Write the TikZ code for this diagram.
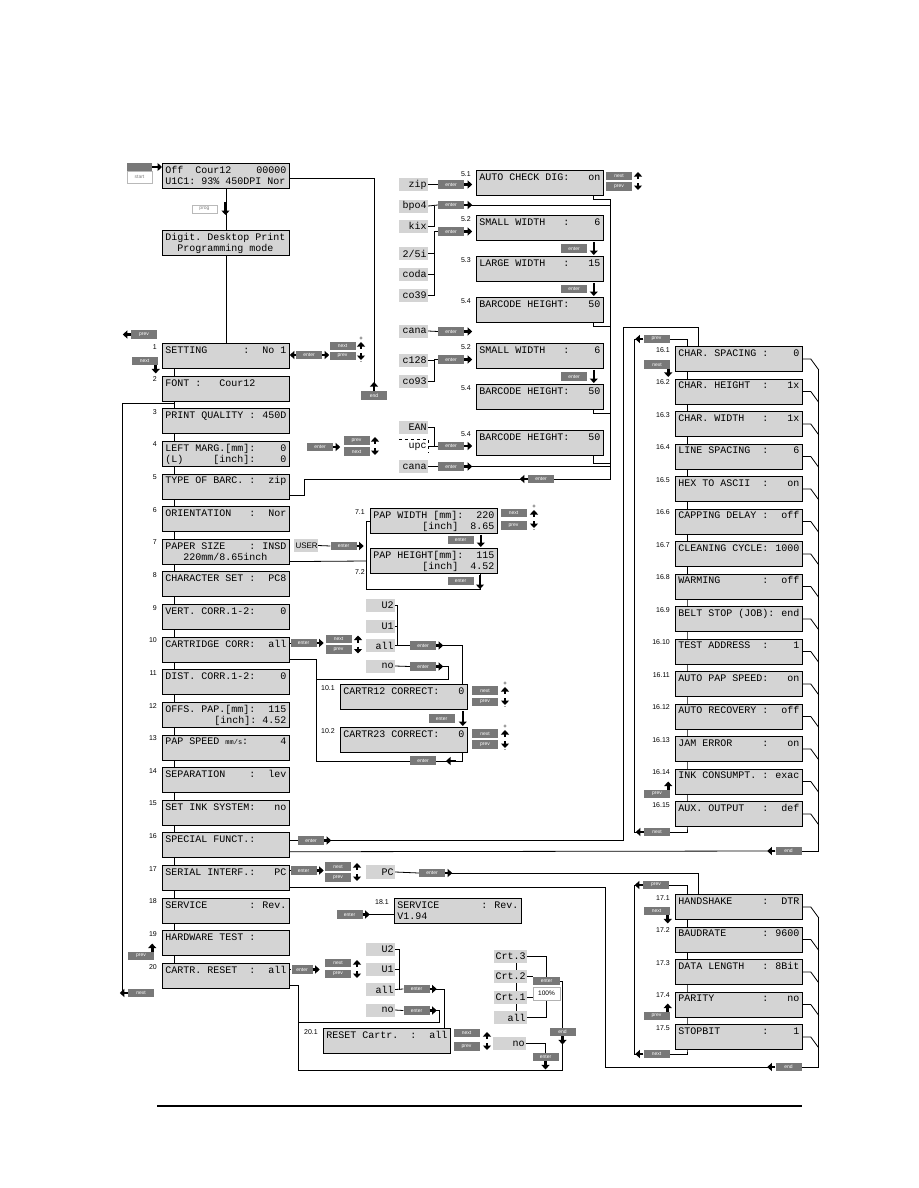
\documentclass[tikz,border=0pt]{standalone}
\usepackage{fontspec}
\setmainfont{Liberation Sans}
\newfontfamily\lcdfont{Liberation Mono}
\usetikzlibrary{arrows.meta,positioning,calc,backgrounds}
\definecolor{lcdgray}{gray}{0.83}
\definecolor{keygray}{gray}{0.47}
\newcommand{\lcdtxt}[2]{\parbox[c][24pt][t]{121pt}{\lcdfont\fontsize{10}{11}\selectfont\frenchspacing\rule{0pt}{9.5pt}#1\\\mbox{}#2}}
\tikzset{
  lcd/.style={draw,fill=lcdgray,line width=0.8pt,anchor=north west,minimum width=127pt,minimum height=25pt,inner sep=0pt},
  opt/.style={fill=lcdgray,text width=26pt,align=right,minimum height=13pt,inner sep=1.5pt,font=\lcdfont\fontsize{10}{10}\selectfont},
  key/.style={fill=keygray,text=white,minimum width=26pt,minimum height=8.5pt,inner sep=0pt,font=\fontsize{5}{5}\selectfont},
  wkey/.style={draw=gray!55,line width=0.8pt,fill=white,text=gray,minimum width=25pt,minimum height=9pt,inner sep=0pt,font=\fontsize{5}{5}\selectfont},
  nr/.style={anchor=north east,inner sep=0pt,xshift=-5pt,yshift=-1pt,font=\fontsize{7}{7}\selectfont},
  blk/.style={line width=2.6pt,-{Triangle[length=4.5pt,width=8pt]}},
  ln/.style={line width=0.8pt},
  updn/.pic={
    \draw[blk] (0,-2) -- (0,-9);
    \draw[blk] (0,2) -- (0,9);
  },
  updnpm/.pic={
    \draw[blk] (0,-2) -- (0,-9);
    \draw[blk] (0,2) -- (0,9);
    \node[font=\fontsize{6}{6}\selectfont,inner sep=0pt] at (0,-12) {+};
    \node[font=\fontsize{6}{6}\selectfont,inner sep=0pt] at (0,12) {-};
  }
}

\begin{document}
\begin{tikzpicture}[x=1pt,y=-1pt]
\useasboundingbox (0,0) rectangle (918,1188);

% start, programming mode
\node[key,minimum width=25pt,minimum height=8pt] (startbar) at (139.5,167) {};
\node[wkey,minimum height=12pt] (start) at (139.5,177) {start};
\node[lcd] (idle) at (162,163) {\lcdtxt{Off~~Cour12\hfill 00000}{U1C1:~93\%~450DPI~Nor}};
\node[wkey,minimum height=8pt] (progkey) at (204.5,209) {prog};
\node[lcd] (prog) at (162,230) {\lcdtxt{Digit.~Desktop~Print}{~~Programming~mode}};
\node[key] (endA) at (374,395.5) {end};

% main menu
\node[lcd] (m1) at (162,343) {\lcdtxt{SETTING~~~~~~:\hfill No~1}{}};
\node[lcd,below=6.83pt of m1] (m2) {\lcdtxt{FONT~:~~~Cour12}{}};
\node[lcd,below=6.83pt of m2] (m3) {\lcdtxt{PRINT~QUALITY~:\hfill 450D}{}};
\node[lcd,below=6.83pt of m3] (m4) {\lcdtxt{LEFT~MARG.[mm]:\hfill 0}{(L)~~~~~[inch]:\hfill 0}};
\node[lcd,below=6.83pt of m4] (m5) {\lcdtxt{TYPE~OF~BARC.~:\hfill zip}{}};
\node[lcd,below=6.83pt of m5] (m6) {\lcdtxt{ORIENTATION~~~:\hfill Nor}{}};
\node[lcd,below=6.83pt of m6] (m7) {\lcdtxt{PAPER~SIZE~~~~:\hfill INSD}{~~~220mm/8.65inch}};
\node[lcd,below=6.83pt of m7] (m8) {\lcdtxt{CHARACTER~SET~:\hfill PC8}{}};
\node[lcd,below=6.83pt of m8] (m9) {\lcdtxt{VERT.~CORR.1-2:\hfill 0}{}};
\node[lcd,below=6.83pt of m9] (m10) {\lcdtxt{CARTRIDGE~CORR:\hfill all}{}};
\node[lcd,below=6.83pt of m10] (m11) {\lcdtxt{DIST.~CORR.1-2:\hfill 0}{}};
\node[lcd,below=6.83pt of m11] (m12) {\lcdtxt{OFFS.~PAP.[mm]:\hfill 115}{\hfill[inch]:~4.52}};
\node[lcd,below=6.83pt of m12] (m13) {\lcdtxt{PAP~SPEED~{\fontsize{7}{7}\selectfont mm/s}:\hfill 4}{}};
\node[lcd,below=6.83pt of m13] (m14) {\lcdtxt{SEPARATION~~~~:\hfill lev}{}};
\node[lcd,below=6.83pt of m14] (m15) {\lcdtxt{SET~INK~SYSTEM:\hfill no}{}};
\node[lcd,below=6.83pt of m15] (m16) {\lcdtxt{SPECIAL~FUNCT.:}{}};
\node[lcd,below=6.83pt of m16] (m17) {\lcdtxt{SERIAL~INTERF.:\hfill PC}{}};
\node[lcd,below=6.83pt of m17] (m18) {\lcdtxt{SERVICE~~~~~~~:\hfill Rev.}{}};
\node[lcd,below=6.83pt of m18] (m19) {\lcdtxt{HARDWARE~TEST~:}{}};
\node[lcd,below=6.83pt of m19] (m20) {\lcdtxt{CARTR.~RESET~~:\hfill all}{}};
\node[nr] (n1) at (m1.north west) {1};
\node[nr] (n2) at (m2.north west) {2};
\node[nr] (n3) at (m3.north west) {3};
\node[nr] (n4) at (m4.north west) {4};
\node[nr] (n5) at (m5.north west) {5};
\node[nr] (n6) at (m6.north west) {6};
\node[nr] (n7) at (m7.north west) {7};
\node[nr] (n8) at (m8.north west) {8};
\node[nr] (n9) at (m9.north west) {9};
\node[nr] (n10) at (m10.north west) {10};
\node[nr] (n11) at (m11.north west) {11};
\node[nr] (n12) at (m12.north west) {12};
\node[nr] (n13) at (m13.north west) {13};
\node[nr] (n14) at (m14.north west) {14};
\node[nr] (n15) at (m15.north west) {15};
\node[nr] (n16) at (m16.north west) {16};
\node[nr] (n17) at (m17.north west) {17};
\node[nr] (n18) at (m18.north west) {18};
\node[nr] (n19) at (m19.north west) {19};
\node[nr] (n20) at (m20.north west) {20};

% keys along the main menu
\node[key] (prev1) at (144,334.5) {prev};
\node[key] (next1) at (144.5,361) {next};
\node[key] (prev19) at (141,956) {prev};
\node[key] (next20) at (141,993) {next};
\node[key] (ent1) at (309,355) {enter};
\node[key] (nx1) at (342.5,346) {next};
\node[key] (pv1) at (342.5,356) {prev};
\node[key] (ent4) at (320,447) {enter};
\node[key] (pv4) at (356.5,440.5) {prev};
\node[key] (nx4) at (356.5,451.5) {next};

% barcodes
\node[opt] (zip) at (413.5,184.5) {zip};
\node[opt] (bpo4) at (413.5,206) {bpo4};
\node[opt] (kix) at (413.5,226) {kix};
\node[opt] (i25) at (413.5,253.5) {2/5i};
\node[opt] (coda) at (413.5,274) {coda};
\node[opt] (co39) at (413.5,295.5) {co39};
\node[opt] (cana) at (413.5,331) {cana};
\node[opt] (c128) at (413.5,360) {c128};
\node[opt] (co93) at (413.5,381) {co93};
\node[opt] (ean) at (413.5,427.5) {EAN};
\node[opt,fill=none] (upc) at (413.5,446.5) {upc};
\node[opt] (canb) at (413.5,466.5) {cana};
\node[key] (ezip) at (451,184.5) {enter};
\node[key] (ebpo) at (451,205) {enter};
\node[key] (e25) at (451,231.5) {enter};
\node[key] (ecana) at (451,331.5) {enter};
\node[key] (e128) at (451,359.5) {enter};
\node[key] (eean) at (451,446) {enter};
\node[key] (ecanb) at (451,466.5) {enter};
\node[lcd] (b51) at (476,170) {\lcdtxt{AUTO~CHECK~DIG:\hfill on}{}};
\node[lcd] (b52) at (476,215) {\lcdtxt{SMALL~WIDTH~~~:\hfill 6}{}};
\node[lcd,below=15.2pt of b52] (b53) {\lcdtxt{LARGE~WIDTH~~~:\hfill 15}{}};
\node[lcd,below=15.2pt of b53] (b54) {\lcdtxt{BARCODE~HEIGHT:\hfill 50}{}};
\node[lcd] (b52b) at (476,343) {\lcdtxt{SMALL~WIDTH~~~:\hfill 6}{}};
\node[lcd,below=15.2pt of b52b] (b54b) {\lcdtxt{BARCODE~HEIGHT:\hfill 50}{}};
\node[lcd] (b54c) at (476,430) {\lcdtxt{BARCODE~HEIGHT:\hfill 50}{}};
\node[nr] (n51) at (b51.north west) {5.1};
\node[nr] (n52) at (b52.north west) {5.2};
\node[nr] (n53) at (b53.north west) {5.3};
\node[nr] (n54) at (b54.north west) {5.4};
\node[nr] (n52b) at (b52b.north west) {5.2};
\node[nr] (n54b) at (b54b.north west) {5.4};
\node[nr] (n54c) at (b54c.north west) {5.4};
\node[key] (e53) at (574,248.5) {enter};
\node[key] (e54) at (574,289) {enter};
\node[key] (e54b) at (574,376.5) {enter};
\node[key] (nx51) at (619,176) {next};
\node[key] (pv51) at (619,186.5) {prev};
\node[key] (eback5) at (541,479) {enter};

% paper size
\node[opt,text width=21pt,align=center,font=\fontsize{8}{8}\selectfont] (user) at (306,545.5) {USER};
\node[key] (euser) at (343.5,546) {enter};
\node[lcd] (b71) at (370,508) {\lcdtxt{PAP~WIDTH~[mm]:\hfill 220}{\hfill[inch]~~8.65}};
\node[lcd] (b72) at (370,548) {\lcdtxt{PAP~HEIGHT[mm]:\hfill 115}{\hfill[inch]~~4.52}};
\node[nr] (n71) at (b71.north west) {7.1};
\node[nr,anchor=south east] (n72) at (b72.south west) {7.2};
\node[key] (e71) at (460.5,540) {enter};
\node[key] (e72) at (460.5,581) {enter};
\node[key] (nx71) at (513.5,513) {next};
\node[key] (pv71) at (513.5,525.5) {prev};

% cartridge correction
\node[key] (e10) at (303.5,643) {enter};
\node[key] (nx10) at (338.5,639) {next};
\node[key] (pv10) at (338.5,649.5) {prev};
\node[opt] (cu2) at (380.5,605.5) {U2};
\node[opt] (cu1) at (380.5,626) {U1};
\node[opt] (call) at (380.5,645.5) {all};
\node[opt] (cno) at (380.5,666) {no};
\node[key] (ecall) at (423,645.5) {enter};
\node[key] (ecno) at (423,666.5) {enter};
\node[lcd] (b101) at (340,684) {\lcdtxt{CARTR12~CORRECT:\hfill 0}{}};
\node[lcd] (b102) at (340,727) {\lcdtxt{CARTR23~CORRECT:\hfill 0}{}};
\node[nr] (n101) at (b101.north west) {10.1};
\node[nr] (n102) at (b102.north west) {10.2};
\node[key] (e101) at (441.5,718.5) {enter};
\node[key] (e102) at (423,760.5) {enter};
\node[key] (nx101) at (485,690.5) {next};
\node[key] (pv101) at (485,702) {prev};
\node[key] (nx102) at (485,733.5) {next};
\node[key] (pv102) at (485,744.5) {prev};

% special functions
\node[key] (e16) at (311,840.5) {enter};
\node[lcd] (s1) at (675,346) {\lcdtxt{CHAR.~SPACING~:\hfill 0}{}};
\node[lcd,below=6.7pt of s1] (s2) {\lcdtxt{CHAR.~HEIGHT~~:\hfill 1x}{}};
\node[lcd,below=6.7pt of s2] (s3) {\lcdtxt{CHAR.~WIDTH~~~:\hfill 1x}{}};
\node[lcd,below=6.7pt of s3] (s4) {\lcdtxt{LINE~SPACING~~:\hfill 6}{}};
\node[lcd,below=6.7pt of s4] (s5) {\lcdtxt{HEX~TO~ASCII~~:\hfill on}{}};
\node[lcd,below=6.7pt of s5] (s6) {\lcdtxt{CAPPING~DELAY~:\hfill off}{}};
\node[lcd,below=6.7pt of s6] (s7) {\lcdtxt{CLEANING~CYCLE:\hfill 1000}{}};
\node[lcd,below=6.7pt of s7] (s8) {\lcdtxt{WARMING~~~~~~~:\hfill off}{}};
\node[lcd,below=6.7pt of s8] (s9) {\lcdtxt{BELT~STOP~(JOB):\hfill end}{}};
\node[lcd,below=6.7pt of s9] (s10) {\lcdtxt{TEST~ADDRESS~~:\hfill 1}{}};
\node[lcd,below=6.7pt of s10] (s11) {\lcdtxt{AUTO~PAP~SPEED:\hfill on}{}};
\node[lcd,below=6.7pt of s11] (s12) {\lcdtxt{AUTO~RECOVERY~:\hfill off}{}};
\node[lcd,below=6.7pt of s12] (s13) {\lcdtxt{JAM~ERROR~~~~~:\hfill on}{}};
\node[lcd,below=6.7pt of s13] (s14) {\lcdtxt{INK~CONSUMPT.~:\hfill exac}{}};
\node[lcd,below=6.7pt of s14] (s15) {\lcdtxt{AUX.~OUTPUT~~~:\hfill def}{}};
\node[nr] (n161) at (s1.north west) {16.1};
\node[nr] (n162) at (s2.north west) {16.2};
\node[nr] (n163) at (s3.north west) {16.3};
\node[nr] (n164) at (s4.north west) {16.4};
\node[nr] (n165) at (s5.north west) {16.5};
\node[nr] (n166) at (s6.north west) {16.6};
\node[nr] (n167) at (s7.north west) {16.7};
\node[nr] (n168) at (s8.north west) {16.8};
\node[nr] (n169) at (s9.north west) {16.9};
\node[nr] (n1610) at (s10.north west) {16.10};
\node[nr] (n1611) at (s11.north west) {16.11};
\node[nr] (n1612) at (s12.north west) {16.12};
\node[nr] (n1613) at (s13.north west) {16.13};
\node[nr] (n1614) at (s14.north west) {16.14};
\node[nr] (n1615) at (s15.north west) {16.15};
\node[key] (pv16) at (656.5,339) {prev};
\node[key] (nx16) at (657,364.5) {next};
\node[key] (pv16b) at (657,794) {prev};
\node[key] (nx16b) at (657,832) {next};
\node[key] (end16) at (788.5,851) {end};

% serial interface
\node[key] (e17) at (303.5,870.5) {enter};
\node[key] (nx17) at (338,866.5) {next};
\node[key] (pv17) at (338,877.5) {prev};
\node[opt,minimum height=14pt] (pc) at (380.5,872) {PC};
\node[key] (epc) at (432,873) {enter};
\node[lcd] (r1) at (675,894) {\lcdtxt{HANDSHAKE~~~~~:\hfill DTR}{}};
\node[lcd,below=6.7pt of r1] (r2) {\lcdtxt{BAUDRATE~~~~~~:\hfill 9600}{}};
\node[lcd,below=6.7pt of r2] (r3) {\lcdtxt{DATA~LENGTH~~~:\hfill 8Bit}{}};
\node[lcd,below=6.7pt of r3] (r4) {\lcdtxt{PARITY~~~~~~~~:\hfill no}{}};
\node[lcd,below=6.7pt of r4] (r5) {\lcdtxt{STOPBIT~~~~~~~:\hfill 1}{}};
\node[nr] (n171) at (r1.north west) {17.1};
\node[nr] (n172) at (r2.north west) {17.2};
\node[nr] (n173) at (r3.north west) {17.3};
\node[nr] (n174) at (r4.north west) {17.4};
\node[nr] (n175) at (r5.north west) {17.5};
\node[key] (pv17t) at (656,885) {prev};
\node[key] (nx17t) at (656.5,911) {next};
\node[key] (pv17b) at (656.5,1016) {prev};
\node[key] (nx17b) at (656.5,1054) {next};
\node[key] (end17) at (788.5,1067) {end};

% service
\node[key] (e18) at (349.5,914.5) {enter};
\node[lcd] (v1) at (394,898) {\lcdtxt{SERVICE~~~~~~~:\hfill Rev.}{V1.94}};
\node[nr] (n181) at (v1.north west) {18.1};

% cartridge reset
\node[key,minimum width=21pt] (e20) at (302,969.5) {enter};
\node[key] (nx20) at (338,963) {next};
\node[key] (pv20) at (338,974) {prev};
\node[opt] (ru2) at (380.5,949.5) {U2};
\node[opt] (ru1) at (380.5,969.5) {U1};
\node[opt] (rall) at (380.5,989.5) {all};
\node[opt] (rno) at (380.5,1010) {no};
\node[key] (erall) at (416.5,989) {enter};
\node[key] (erno) at (416.5,1010.5) {enter};
\node[lcd] (t1) at (323,1028) {\lcdtxt{RESET~Cartr.~~:\hfill all}{}};
\node[nr] (n201) at (t1.north west) {20.1};
\node[key] (nx201) at (466.5,1033) {next};
\node[key] (pv201) at (466.5,1046.5) {prev};
\node[opt,text width=30pt] (no2) at (509.5,1043.5) {no};
\node[key] (eno2) at (545.5,1057) {enter};
\node[opt,text width=30pt] (c3) at (510.5,956.5) {Crt.3};
\node[opt,text width=30pt] (c2) at (510.5,976.5) {Crt.2};
\node[opt,text width=30pt] (c1) at (510.5,997) {Crt.1};
\node[opt,text width=30pt] (call2) at (510.5,1017.5) {all};
\node[key,minimum width=27pt] (ecrt) at (546.5,981) {enter};
\node[draw=gray!60,line width=0.7pt,fill=white,minimum width=27pt,minimum height=13pt,inner sep=0pt,font=\fontsize{6.5}{6.5}\selectfont] (pct) at (546.5,993.5) {100\%};
\node[key] (endr) at (562.5,1032) {end};

\begin{scope}[on background layer]
\draw[ln] (idle.south) -- (prog.north);
\draw[ln] (prog.south) -- (m1.north);
\draw[ln] ($(idle.north east)+(0,15)$) -| (endA.north);
\draw[ln] ($(m1.south west)+(12,0)$) -- ($(m20.north west)+(12,0)$);
\draw[ln] ($(m2.south west)+(12,1.5)$) -| (122,993);
% barcodes
\draw[ln] (zip.east) -- (ezip.west);
\draw[ln] (bpo4.east) -- (ebpo.west);
\draw[ln] (kix.east) -| (434,206);
\draw[ln] (ebpo.east) -- (610,205);
\draw[ln] (co39.east) -| (434,231.5) -- (e25.west);
\draw[ln] (i25.east) -- (434,253.5);
\draw[ln] (coda.east) -- (434,274);
\draw[ln] (cana.east) -- (ecana.west);
\draw[ln] (co93.east) -| (434,359.5) -- (e128.west);
\draw[ln] (c128.east) -- (434,360);
\draw[ln] (ean.east) -| (434,446) -- (eean.west);
\draw[ln] (upc.east) -- (434,446.5);
\draw[ln,dashed] (upc.north west) -- (upc.north east) -- (upc.south east);
\draw[ln] (canb.east) -- (ecanb.west);
\draw[ln] (ecanb.east) -- (610,466.5);
\draw[ln] ($(b51.south east)+(-10,0)$) |- (610,199);
\draw[ln] ($(b54.south east)+(-10,0)$) |- (610,326);
\draw[ln] ($(b54b.south east)+(-10,0)$) |- (610,413);
\draw[ln] ($(b54c.south east)+(-10,0)$) |- (610,463);
\draw[ln] (610,199) |- (304,479) |- ($(m5.south east)+(0,-3.5)$);
% paper size
\draw[ln] (user.east) -- (euser.west);
\draw[ln] (b71.west) -| (366,589) -| ($(b72.south east)+(-17,0)$);
\draw[ln] ($(m7.south east)+(0,-3)$) -- (366,561);
% cartridge correction
\draw[ln] (m10.east |- e10) -- (e10.west);
\draw[ln] (cu2.east) -| (397,645.5);
\draw[ln] (cu1.east) -- (397,626);
\draw[ln] (call.east) -- (ecall.west);
\draw[ln] (ecall.east) -| ($(b101.north east)+(-5,0)$);
\draw[ln] (cno.east) -- (ecno.west);
\draw[ln] (ecno.east) -| (448,679) -- (316,679);
\draw[ln] ($(m10.south east)+(0,-3)$) -| (316,761) -| ($(b102.south east)+(-5,0)$);
% special functions
\draw[ln] (m16.east |- e16) -- (e16.west);
\draw[ln] (e16.east) -| (623,327) -| ($(s1.north west)+(23,0)$);
\draw[ln] ($(m16.south east)+(0,-6.5)$) -- (end16.west);
\draw[ln] (pv16.west) -- (634,339) -- (634,832) -- (nx16b.west);
\draw[ln] (pv16.east) -| ($(s1.north west)+(12,0)$);
\draw[ln] ($(s1.north west)+(12,0)$) -- ($(s15.south west)+(12,0)$) |- (nx16b.east);
\foreach \k in {1,...,15}
  \draw[ln] ($(s\k.north east)+(0,13)$) -- +(8,0) -- +(16,11);
\draw[ln] ($(s1.north east)+(16,24)$) |- (end16.east);
% serial interface
\draw[ln] (m17.east |- e17) -- (e17.west);
\draw[ln] (pc.east) -- (epc.west);
\draw[ln] (epc.east) -| ($(r1.north west)+(23,0)$);
\draw[ln] ($(m17.south east)+(0,-3)$) -| (605,1067) -- (end17.west);
\draw[ln] (pv17t.west) -- (634,885) -- (634,1054) -- (nx17b.west);
\draw[ln] (pv17t.east) -| ($(r1.north west)+(12,0)$);
\draw[ln] ($(r1.north west)+(12,0)$) -- ($(r5.south west)+(12,0)$) |- (nx17b.east);
\foreach \k in {1,...,5}
  \draw[ln] ($(r\k.north east)+(0,13)$) -- +(8,0) -- +(16,11);
\draw[ln] ($(r1.north east)+(16,24)$) |- (end17.east);
% service
\draw[ln] (e18.east) -- (v1.west |- e18.east);
% cartridge reset
\draw[ln] (m20.east |- e20) -- (e20.west);
\draw[ln] (ru2.east) -| (399,989.5);
\draw[ln] (ru1.east) -- (399,969.5);
\draw[ln] (rall.east) -- (erall.west);
\draw[ln] (erall.east) -| ($(t1.north east)+(-6,0)$);
\draw[ln] (rno.east) -- (erno.west);
\draw[ln] (erno.east) -| (439,1022) -- (298,1022);
\draw[ln] ($(m20.south east)+(0,-3)$) -| (298,1070) -| (endr.south);
\draw[ln] ($(c3.south)+(6,0)$) -- ($(call2.north)+(6,0)$);
\draw[ln] (c3.east) -| (ecrt.north);
\draw[ln] (c2.east) -- (ecrt.west |- c2.east);
\draw[ln] (c1.east) -- (pct.west |- c1.east);
\draw[ln] (call2.east) -| (pct.south);
\draw[ln] (ecrt.east) -| (endr.north);
\draw[ln] (no2.east) -| (eno2.north);
\end{scope}

% block arrows
\draw[blk] (startbar.east) -- (idle.west |- startbar.east);
\draw[blk] (225.5,202) -- (225.5,215);
\draw[blk] (endA.north) -- +(0,-9);
\draw[blk] (prev1.west) -- +(-8,0);
\draw[blk] ($(next1.south east)+(-2,0)$) -- +(0,8);
\draw[blk] ($(prev19.north east)+(-2,0)$) -- +(0,-8);
\draw[blk] (next20.west) -- +(-8,0);
\draw[blk] (ent1.west) -- (m1.east |- ent1.west);
\draw[blk] (ent1.east) -- +(7,0);
\pic at (361,351) {updnpm};
\draw[blk] (ent4.east) -- +(7,0);
\pic at (375,446) {updn};
\draw[blk] (ezip.east) -- +(8,0);
\draw[blk] (ebpo.east) -- +(8,0);
\draw[blk] (e25.east) -- +(8,0);
\draw[blk] (ecana.east) -- +(8,0);
\draw[blk] (e128.east) -- +(8,0);
\draw[blk] (eean.east) -- +(8,0);
\draw[blk] (ecanb.east) -- +(8,0);
\draw[blk] ($(b52.south east)+(-10,1)$) -- ($(b53.north east)+(-10,-1)$);
\draw[blk] ($(b53.south east)+(-10,1)$) -- ($(b54.north east)+(-10,-1)$);
\draw[blk] ($(b52b.south east)+(-10,1)$) -- ($(b54b.north east)+(-10,-1)$);
\pic at (638,181) {updn};
\draw[blk] (eback5.west) -- +(-8,0);
\draw[blk] (euser.east) -- +(7,0);
\draw[blk] ($(b71.south east)+(-17,1)$) -- ($(b72.north east)+(-17,-1)$);
\draw[blk] (480,575) -- (480,589);
\pic at (534,519) {updnpm};
\draw[blk] (e10.east) -- +(7,0);
\pic at (358,644.5) {updn};
\draw[blk] (ecall.east) -- +(7,0);
\draw[blk] (ecno.east) -- +(7,0);
\draw[blk] ($(b101.south east)+(-5,1)$) -- ($(b102.north east)+(-5,-1)$);
\draw[blk] (456,761) -- (446,761);
\pic at (505,696) {updnpm};
\pic at (505,739) {updnpm};
\draw[blk] (e16.east) -- +(7,0);
\draw[blk] (pv16.west) -- +(-8,0);
\draw[blk] ($(nx16.south east)+(-2,0)$) -- +(0,8);
\draw[blk] ($(pv16b.north east)+(-2,0)$) -- +(0,-8);
\draw[blk] (nx16b.west) -- +(-8,0);
\draw[blk] (end16.west) -- +(-8,0);
\draw[blk] (e17.east) -- +(7,0);
\pic at (357,872) {updn};
\draw[blk] (epc.east) -- +(7,0);
\draw[blk] (pv17t.west) -- +(-8,0);
\draw[blk] ($(nx17t.south east)+(-2,0)$) -- +(0,8);
\draw[blk] ($(pv17b.north east)+(-2,0)$) -- +(0,-8);
\draw[blk] (nx17b.west) -- +(-8,0);
\draw[blk] (end17.west) -- +(-8,0);
\draw[blk] (e18.east) -- +(7,0);
\draw[blk] (e20.east) -- +(7,0);
\pic at (357,969) {updn};
\draw[blk] (erall.east) -- +(7,0);
\draw[blk] (erno.east) -- +(7,0);
\pic at (487,1041) {updn};
\draw[blk] (eno2.south) -- +(0,8);
\draw[blk] (endr.south) -- +(0,8);

% page rule
\draw[line width=1.2pt] (157,1106) -- (802,1106);
\end{tikzpicture}
\end{document}
